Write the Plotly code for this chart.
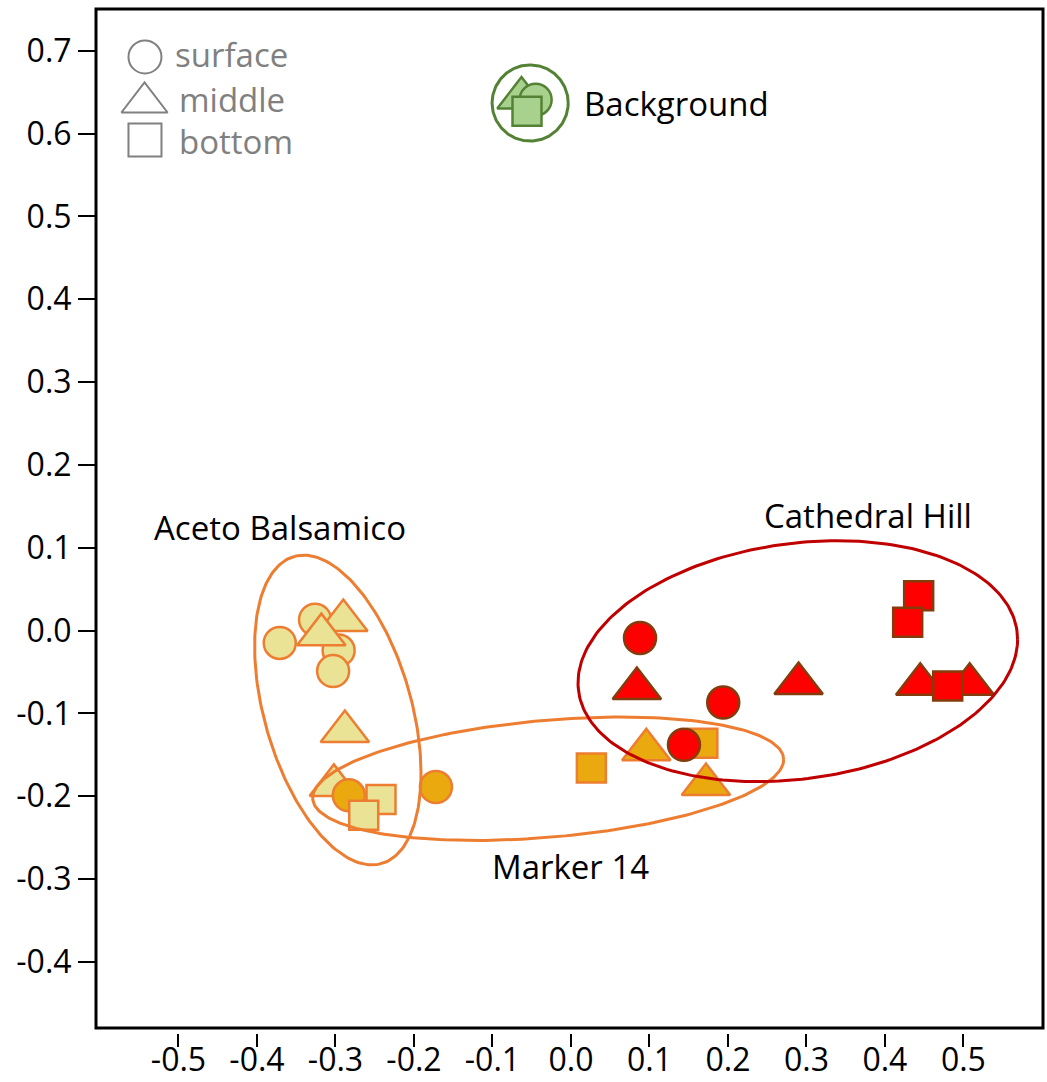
import numpy as np
import plotly.graph_objects as go

# ---- PCA scores (PC1, PC2) per site and sampling depth ----
aceto_surface_x = [-0.371, -0.326, -0.296, -0.303]
aceto_surface_y = [-0.015, 0.013, -0.024, -0.049]
aceto_middle_x = [-0.290, -0.318, -0.288, -0.302]
aceto_middle_y = [0.012, -0.005, -0.122, -0.187]
aceto_bottom_x = [-0.242, -0.264]
aceto_bottom_y = [-0.204, -0.223]

marker_surface_x = [-0.283, -0.172]
marker_surface_y = [-0.199, -0.189]
marker_middle_x = [0.096, 0.172]
marker_middle_y = [-0.144, -0.186]
marker_bottom_x = [0.026, 0.168]
marker_bottom_y = [-0.166, -0.136]

cathedral_surface_x = [0.088, 0.194, 0.144]
cathedral_surface_y = [-0.009, -0.087, -0.138]
cathedral_middle_x = [0.084, 0.290, 0.445, 0.508]
cathedral_middle_y = [-0.070, -0.064, -0.065, -0.065]
cathedral_bottom_x = [0.443, 0.429, 0.480]
cathedral_bottom_y = [0.042, 0.010, -0.067]

background_middle = (-0.063, 0.643)
background_surface = (-0.045, 0.641)
background_bottom = (-0.056, 0.627)

# ---- group ellipses: centre, half-extent along x / y, correlation ----
group_names = ["Aceto Balsamico", "Marker 14", "Cathedral Hill", "Background"]
ellipse_cx = [-0.297, -0.029, 0.289, -0.052]
ellipse_cy = [-0.096, -0.179, -0.037, 0.637]
ellipse_sx = [0.106, 0.300, 0.280, 0.0485]
ellipse_sy = [0.187, 0.0745, 0.1455, 0.046]
ellipse_rho = [-0.41, 0.31, 0.18, 0.0]

# ---- axis ticks ----
x_ticks = [-0.5, -0.4, -0.3, -0.2, -0.1, 0.0, 0.1, 0.2, 0.3, 0.4, 0.5]
x_ticktext = ["-0.5", "-0.4", "-0.3", "-0.2", "-0.1", "0.0", "0.1", "0.2", "0.3", "0.4", "0.5"]
y_ticks = [-0.4, -0.3, -0.2, -0.1, 0.0, 0.1, 0.2, 0.3, 0.4, 0.5, 0.6, 0.7]
y_ticktext = ["-0.4", "-0.3", "-0.2", "-0.1", "0.0", "0.1", "0.2", "0.3", "0.4", "0.5", "0.6", "0.7"]

ORANGE = "#ED7D31"
PALE = "#EAE396"
GOLD = "#E9A90F"
RED = "#FF0000"
BROWN = "#843C0C"
DARKRED = "#C00000"
GREEN_FILL = "#A9D18E"
GREEN_LINE = "#548235"
GREY = "#808080"

SIZE_CIRCLE = 32
SIZE_TRIANGLE = 42
SIZE_SQUARE = 29


def pts(x, y, symbol, fill, line, size):
    return go.Scatter(
        x=x, y=y, mode="markers", hoverinfo="skip", showlegend=False,
        marker=dict(symbol=symbol, size=size, color=fill,
                    line=dict(color=line, width=2.5)),
    )


def ellipse_xy(cx, cy, sx, sy, rho, n=240):
    t = np.linspace(0, 2 * np.pi, n)
    x = cx + sx * np.cos(t)
    y = cy + sy * (rho * np.cos(t) + np.sqrt(1 - rho ** 2) * np.sin(t))
    return x, y


fig = go.Figure()

# background samples
fig.add_trace(pts([background_middle[0]], [background_middle[1]], "triangle-up", GREEN_FILL, GREEN_LINE, SIZE_TRIANGLE))
fig.add_trace(pts([background_surface[0]], [background_surface[1]], "circle", GREEN_FILL, GREEN_LINE, SIZE_CIRCLE))
fig.add_trace(pts([background_bottom[0]], [background_bottom[1]], "square", GREEN_FILL, GREEN_LINE, SIZE_SQUARE))

# site samples, stacked so that overlaps read as in the field plot
fig.add_trace(pts(aceto_surface_x, aceto_surface_y, "circle", PALE, ORANGE, SIZE_CIRCLE))
fig.add_trace(pts(aceto_middle_x, aceto_middle_y, "triangle-up", PALE, ORANGE, SIZE_TRIANGLE))
fig.add_trace(pts(marker_surface_x, marker_surface_y, "circle", GOLD, ORANGE, SIZE_CIRCLE))
fig.add_trace(pts(aceto_bottom_x, aceto_bottom_y, "square", PALE, ORANGE, SIZE_SQUARE))
fig.add_trace(pts(marker_bottom_x, marker_bottom_y, "square", GOLD, ORANGE, SIZE_SQUARE))
fig.add_trace(pts(marker_middle_x, marker_middle_y, "triangle-up", GOLD, ORANGE, SIZE_TRIANGLE))
fig.add_trace(pts(cathedral_surface_x, cathedral_surface_y, "circle", RED, BROWN, SIZE_CIRCLE))
fig.add_trace(pts(cathedral_middle_x, cathedral_middle_y, "triangle-up", RED, BROWN, SIZE_TRIANGLE))
fig.add_trace(pts(cathedral_bottom_x, cathedral_bottom_y, "square", RED, BROWN, SIZE_SQUARE))

# group ellipses
ellipse_colors = [ORANGE, ORANGE, DARKRED, GREEN_LINE]
for i in range(len(group_names)):
    ex, ey = ellipse_xy(ellipse_cx[i], ellipse_cy[i], ellipse_sx[i], ellipse_sy[i], ellipse_rho[i])
    fig.add_trace(go.Scatter(x=ex, y=ey, mode="lines", hoverinfo="skip", showlegend=False,
                             line=dict(color=ellipse_colors[i], width=3)))

# depth key
fig.add_trace(pts([-0.5427], [0.6926], "circle-open", GREY, GREY, 33))
fig.add_trace(pts([-0.5433], [0.6376], "triangle-up-open", GREY, GREY, 40))
fig.add_trace(pts([-0.5427], [0.5923], "square-open", GREY, GREY, 33))
for c in fig.data[-3:]:
    c.marker.line.width = 2

TXT = "Open Sans"
annotations = [
    dict(x=-0.5071, y=0.695, text="surface", xanchor="left", font=dict(color=GREY, size=33, family=TXT)),
    dict(x=-0.5023, y=0.6418, text="middle", xanchor="left", font=dict(color=GREY, size=33, family=TXT)),
    dict(x=-0.5020, y=0.5911, text="bottom", xanchor="left", font=dict(color=GREY, size=33, family=TXT)),
    dict(x=0.0141, y=0.6367, text="Background", xanchor="left", font=dict(color="black", size=33, family=TXT)),
    dict(x=-0.3707, y=0.125, text="Aceto Balsamico", xanchor="center", font=dict(color="black", size=33, family=TXT)),
    dict(x=0.3785, y=0.1395, text="Cathedral Hill", xanchor="center", font=dict(color="black", size=33, family=TXT)),
    dict(x=-0.0012, y=-0.2844, text="Marker 14", xanchor="center", font=dict(color="black", size=33, family=TXT)),
]
for a in annotations:
    a.update(xref="x", yref="y", yanchor="middle", showarrow=False)

fig.update_layout(
    width=1047, height=1082,
    margin=dict(l=96, r=4, t=9, b=49),
    paper_bgcolor="white", plot_bgcolor="white",
    annotations=annotations,
    shapes=[dict(type="rect", xref="paper", yref="paper", x0=0, x1=1, y0=0.0049, y1=1,
                 line=dict(color="black", width=3), layer="above")],
    xaxis=dict(range=[-0.6051, 0.6014], showgrid=False, zeroline=False, showline=False,
               automargin=False,
               tickmode="array", tickvals=x_ticks, ticktext=x_ticktext,
               ticks="outside", ticklen=13, tickwidth=2, tickcolor="black",
               ticklabelstandoff=-14,
               tickfont=dict(family=TXT, size=32, color="black")),
    yaxis=dict(range=[-0.486, 0.7505], showgrid=False, zeroline=False, showline=False,
               automargin=False,
               tickmode="array", tickvals=y_ticks, ticktext=y_ticktext,
               ticks="outside", ticklen=17, tickwidth=2, tickcolor="black",
               tickfont=dict(family=TXT, size=32, color="black")),
)

fig.write_html("out.html")
